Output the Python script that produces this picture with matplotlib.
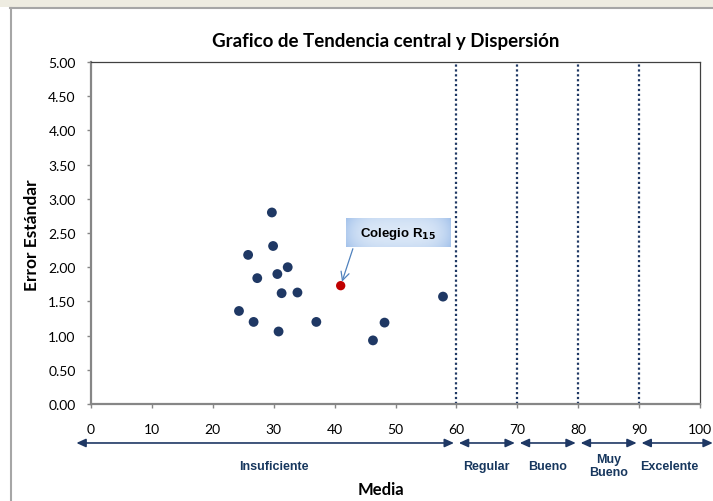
import numpy as np
import matplotlib
matplotlib.use("Agg")
import matplotlib.pyplot as plt
from matplotlib.patches import Rectangle
import matplotlib.transforms as mtransforms

# puntos de colegios: media vs error estandar
media = [29.7, 29.9, 25.8, 32.3, 30.6, 27.3, 31.3, 33.9, 57.8, 24.3, 26.7, 37.0, 48.2, 30.8, 46.3]
error_std = [2.80, 2.31, 2.18, 2.00, 1.90, 1.84, 1.62, 1.63, 1.57, 1.36, 1.20, 1.20, 1.19, 1.06, 0.93]

# colegio destacado
colegio_x = 41.0
colegio_y = 1.73

# rangos de calificacion
limites = [0, 60, 70, 80, 90, 100]
niveles = ["Insuficiente", "Regular", "Bueno", "Muy\nBueno", "Excelente"]

navy = "#1F3864"
rojo = "#C00000"
texto_azul = "#17375E"

fig = plt.figure(figsize=(7.13, 5.02), dpi=100)

# marco exterior del grafico
fig.patches.append(Rectangle((0, 1 - 8 / 502), 1, 8 / 502, transform=fig.transFigure,
                             facecolor="#EEECE1", edgecolor="none", zorder=0))
fig.add_artist(plt.Line2D([10 / 713, 1], [1 - 9 / 502, 1 - 9 / 502], transform=fig.transFigure,
                          color="#A6A6A6", lw=1.5))
fig.add_artist(plt.Line2D([10.5 / 713, 10.5 / 713], [0, 1 - 9 / 502], transform=fig.transFigure,
                          color="#A6A6A6", lw=1.5))

ax = fig.add_axes([91 / 713, 1 - 405 / 502, 609 / 713, 342 / 502])

for s in ["left", "bottom"]:
    ax.spines[s].set_color("#868686")
    ax.spines[s].set_linewidth(1.6)
for s in ["top", "right"]:
    ax.spines[s].set_color("#404040")
    ax.spines[s].set_linewidth(0.9)

# lineas punteadas de los limites
for lim in limites[1:-1]:
    ax.axvline(lim, color=navy, ls=(0, (1, 1.2)), lw=1.6, zorder=1)

ax.scatter(media, error_std, s=50, color=navy, zorder=3, edgecolors="none")
ax.scatter([colegio_x], [colegio_y], s=45, color=rojo, zorder=4, edgecolors="none")

# cuadro con degradado para la etiqueta del colegio
bx0, bx1, by0, by1 = 41.8, 59.0, 2.30, 2.72
t = np.linspace(-1, 1, 200)
u = np.linspace(-1, 1, 40)
tt, uu = np.meshgrid(t, u)
k = np.clip(0.75 * tt ** 4 + 0.25 * uu ** 2, 0, 1)
claro = np.array([0.86, 0.91, 0.97])
oscuro = np.array([0.64, 0.76, 0.92])
grad = claro[None, None, :] * (1 - k[..., None]) + oscuro[None, None, :] * k[..., None]
ax.imshow(grad, extent=[bx0, bx1, by0, by1], aspect="auto", zorder=5, interpolation="bilinear")
ax.text((bx0 + bx1) / 2, (by0 + by1) / 2 - 0.01, r"Colegio R$_{\mathbf{15}}$", ha="center", va="center",
        fontsize=9.5, fontweight="bold", family="Liberation Sans", zorder=6)
ax.annotate("", xy=(colegio_x, colegio_y), xytext=(43.0, by0 - 0.03),
            arrowprops=dict(arrowstyle="->,head_length=0.6,head_width=0.3", color="#4F81BD", lw=0.9,
                            shrinkA=0, shrinkB=3))

ax.set_xlim(0, 100)
ax.set_ylim(0, 5)
ax.set_xticks(range(0, 101, 10))
ax.set_yticks(np.arange(0, 5.01, 0.5))
ax.set_yticklabels([f"{v:.2f}" for v in np.arange(0, 5.01, 0.5)])
ax.tick_params(axis="both", colors="#868686", labelcolor="black", labelsize=10, length=3, width=1)
ax.tick_params(axis="x", pad=11)
ax.tick_params(axis="y", pad=8)
for lbl in ax.get_xticklabels() + ax.get_yticklabels():
    lbl.set_family("Lato")

# flechas de rangos bajo el eje x
trans = mtransforms.blended_transform_factory(ax.transData, ax.transAxes)
for i in range(len(niveles)):
    a, b = limites[i], limites[i + 1]
    if i == 0:
        a = -2.8
    if i == len(niveles) - 1:
        b = 102.5
    ax.annotate("", xy=(a + 0.4, -0.114), xytext=(b - 0.4, -0.114), xycoords=trans, textcoords=trans,
                arrowprops=dict(arrowstyle="<|-|>,head_length=0.55,head_width=0.25", color=navy,
                                lw=1.2, shrinkA=0, shrinkB=0), annotation_clip=False)
    centro = (limites[i] + limites[i + 1]) / 2
    ax.text(centro, -0.18, niveles[i], transform=trans, ha="center", va="center",
            fontsize=9, fontweight="bold", color=texto_azul, family="Liberation Sans",
            linespacing=1.1)

fig.text(386 / 713, 1 - 41 / 502, "Grafico de Tendencia central y Dispersión", ha="center", va="center",
         fontsize=13.5, fontweight="bold", family="Lato")
fig.text(381 / 713, 1 - 490 / 502, "Media", ha="center", va="center",
         fontsize=12, fontweight="bold", family="Lato")
fig.text(32 / 713, 1 - 235 / 502, "Error Estándar", ha="center", va="center", rotation=90,
         fontsize=12.5, fontweight="bold", family="Lato")

fig.savefig("out.png", dpi=100)
